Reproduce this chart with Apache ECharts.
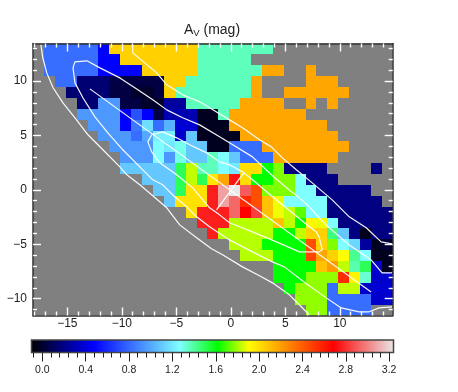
<!DOCTYPE html>
<html><head><meta charset="utf-8">
<style>html,body{margin:0;padding:0;background:#fff}#c{width:458px;height:392px}</style>
<script src="https://cdn.jsdelivr.net/npm/echarts@6/dist/echarts.min.js"></script>
</head><body><div id="c"></div>
<script>
const _ = null;
// A_V per cell, one array per map row from top; columns run left to right
const row00=[_,.82,.82,.82,.82,.82,.48,2.04,2.04,2.04,2.04,2.04,2.04,2.04,2.04,1.36,1.36,1.36,1.36,1.36,1.36,1.36,_,_,_,_,_,_,_,_,_,_,_];
const row01=[_,.82,.82,.82,.82,.82,.48,.48,2.04,2.04,2.04,2.04,2.04,2.04,2.04,1.36,1.36,1.36,1.36,1.36,_,_,_,_,_,_,_,_,_,_,_,_,_];
const row02=[_,.82,.82,.82,.82,.82,.48,.48,.48,.48,2.04,2.04,2.04,2.04,2.04,1.36,1.36,1.36,1.36,1.36,1.36,2.17,2.17,_,_,2.17,_,_,_,_,_,_,_];
const row03=[_,_,.82,.82,.16,.16,.16,.05,.05,.05,.05,.05,2.04,2.04,1.36,1.36,1.36,1.36,1.36,1.36,2.17,_,_,_,_,2.17,2.17,2.17,_,_,_,_,_];
const row04=[_,_,_,.16,.16,.16,.16,.05,.05,-.01,-.01,.05,2.04,1.36,1.36,1.36,1.36,1.36,1.36,1.36,2.17,_,_,2.17,2.17,2.17,2.17,2.17,2.17,_,_,_,_];
const row05=[_,_,_,_,.16,.16,.95,.95,.05,.05,-.01,-.01,.26,.26,1.36,1.36,1.36,1.36,1.36,2.17,2.17,2.17,2.17,_,_,2.17,_,2.17,_,_,_,_,_];
const row06=[_,_,_,_,.95,.95,.95,.95,.44,.73,.48,.05,.3,.3,.3,-.03,-.03,1.36,2.17,2.17,2.17,2.17,2.17,2.17,2.17,_,_,_,_,_,_,_,_];
const row07=[_,_,_,_,_,.95,.95,.95,.48,.85,1.17,.82,1.03,.38,.38,-.03,-.03,-.03,2.17,2.17,2.17,2.17,2.17,2.17,2.17,2.17,2.17,_,_,_,_,_,_];
const row08=[_,_,_,_,_,_,.95,.95,.95,.82,1,1.22,1.22,.36,1.1,-.03,-.03,-.03,-.03,2.17,2.17,2.17,2.17,2.17,2.17,2.17,2.17,2.17,_,_,_,_,_];
const row09=[_,_,_,_,_,_,_,.95,.95,.95,.95,1.27,1.2,1.295,1.1,1.1,-.03,-.03,.82,.82,.82,2.17,2.17,2.17,2.17,2.17,2.17,2.17,2.17,_,_,_,_];
const row10=[_,_,_,_,_,_,_,_,.95,.95,.95,1.27,.95,1.3,1.1,1.1,1.36,1.27,1.1,.82,.82,.82,2.17,2.17,2.17,2.17,2.17,2.17,_,_,_,_,_];
const row11=[_,_,_,_,_,_,_,_,1.1,1.1,1.1,1.1,1.1,1.5,1.83,1.36,1.36,1.27,1.2,2,2,1.62,1.76,.19,.19,.19,.19,_,_,_,_,.19,_];
const row12=[_,_,_,_,_,_,_,_,_,_,1.1,1.1,1.1,1.5,1.83,1.5,1.98,2.17,2.72,2,1.62,1.62,1.76,1.76,1.27,.19,.19,.19,_,_,_,_,_];
const row13=[_,_,_,_,_,_,_,_,_,_,_,1.1,1.1,1.5,1.99,1.99,2.75,3.07,3.24,2.9,2.44,1.76,1.76,1.76,1.27,1.27,.19,.19,.19,.19,.19,_,_];
const row14=[_,_,_,_,_,_,_,_,_,_,_,_,1.1,1.99,1.99,1.99,2.75,3.07,2.93,2.55,2.44,2.09,1.88,1.27,1.27,1.27,1.27,.19,.19,.19,.19,.19,_];
const row15=[_,_,_,_,_,_,_,_,_,_,_,_,_,_,1.99,2.75,2.75,2.75,2.93,2.68,2.83,2.09,1.88,1.83,1.72,1.27,1.27,.19,.19,.19,.19,.19,.19];
const row16=[_,_,_,_,_,_,_,_,_,_,_,_,_,_,_,2.75,2.75,2.75,1.82,1.82,1.82,1.82,2.09,1.83,1.62,1.92,1.88,1.27,.19,.19,.19,.19,.19];
const row17=[_,_,_,_,_,_,_,_,_,_,_,_,_,_,_,_,2.75,1.82,1.82,1.82,1.82,1.82,1.62,1.62,1.83,2.04,2.04,1.45,1.1,.19,-.03,.19,.19];
const row18=[_,_,_,_,_,_,_,_,_,_,_,_,_,_,_,_,_,_,1.82,1.82,1.82,1.62,1.62,1.62,1.62,2.44,2.04,1.76,1.27,1.15,.26,-.03,.02];
const row19=[_,_,_,_,_,_,_,_,_,_,_,_,_,_,_,_,_,_,_,1.82,1.82,1.82,1.62,1.62,1.62,2.47,2.17,2.04,1.9,1.42,1.27,-.03,-.03];
const row20=[_,_,_,_,_,_,_,_,_,_,_,_,_,_,_,_,_,_,_,_,_,_,1.62,1.62,1.62,1.62,2.09,2.21,1.83,1.38,1.5,.36,-.03];
const row21=[_,_,_,_,_,_,_,_,_,_,_,_,_,_,_,_,_,_,_,_,_,_,1.62,1.62,1.62,1.78,1.78,1.78,2.55,1.93,1.33,.36,.36];
const row22=[_,_,_,_,_,_,_,_,_,_,_,_,_,_,_,_,_,_,_,_,_,_,_,1.62,1.78,1.78,1.78,.82,1.83,1.83,.36,.38,.38];
const row23=[_,_,_,_,_,_,_,_,_,_,_,_,_,_,_,_,_,_,_,_,_,_,_,_,1.78,1.78,1.78,.82,.82,.82,.82,.36,.36];
const row24=[_,_,_,_,_,_,_,_,_,_,_,_,_,_,_,_,_,_,_,_,_,_,_,_,_,1.78,1.78,.82,.82,.82,.82,_,_];
const rows=[row00,row01,row02,row03,row04,row05,row06,row07,row08,row09,row10,row11,row12,row13,row14,row15,row16,row17,row18,row19,row20,row21,row22,row23,row24];

// white contours and ellipse axes, in map coordinates
const outerLower=[[-17.44,13.42],[-17.25,12.13],[-16.89,10.75],[-16.31,9.38],[-15.4,8],[-14.3,6.62],[-13.11,5.06],[-11.74,3.68],[-10.18,2.11],[-9.54,1.38],[-8.35,.46],[-7.16,-.55],[-5.88,-1.65],[-4.69,-3.22],[-3.14,-4.41],[-1.77,-5.42],[-.76,-5.97],[1.07,-7.08],[2.63,-7.9],[3.82,-8.55],[5.37,-9.65],[6.47,-10.75],[7.2,-11.49]];
const outerUpper=[[-9.02,13.42],[-8.99,12.59],[-7.9,11.67],[-6.8,10.75],[-5.88,9.65],[-4.42,8.73],[-2.86,8.09],[-1.95,7.54],[-.12,6.43],[1.07,5.7],[2.63,4.6],[3.72,3.95],[4.73,2.94],[6.01,1.84],[7.47,.64],[9.3,-.92],[10.86,-2.48],[12.42,-3.49],[13.79,-4.78],[14.79,-4.96]];
const middle=[[14.79,-7.63],[13.88,-7.63],[12.87,-6.43],[10.86,-5.06],[9.03,-3.49],[8.12,-2.57],[7.2,-1.56],[6.29,-.74],[5.55,-.18],[3.82,1.29],[1.99,3.03],[-.12,4.32],[-1.03,4.87],[-2.86,5.97],[-4.42,6.62],[-5.88,7.35],[-7.16,8.27],[-8.81,9.38],[-10.18,10.29],[-12.01,11.21],[-13.2,11.86],[-14.3,11.76],[-14.48,11.21],[-14.3,9.83],[-13.57,8.46],[-12.47,6.71],[-11.28,5.24],[-9.91,3.68],[-8.35,2.11],[-7.16,.92],[-6.25,.46],[-5.15,-.64],[-4.05,-1.56],[-3.14,-2.48],[-1.95,-3.4],[-.12,-4.6],[1.99,-5.7],[3.82,-6.62],[4.91,-7.08],[6.93,-8.64],[8.76,-9.93],[10.13,-10.85],[11.77,-11.21],[12.69,-11.21],[13.6,-10.85],[14.79,-10.75]];
const inner=[[-7.26,5.06],[-6.25,5.33],[-4.97,4.78],[-3.78,4.14],[-2.22,3.4],[-1.03,2.57],[-.12,2.3],[1.07,1.65],[1.99,.92],[3.82,-.64],[5.64,-2.11],[7.2,-3.4],[7.84,-3.86],[8.12,-4.41],[8.39,-5.51],[8.12,-5.7],[6.29,-5.7],[4.18,-4.78],[1.99,-3.86],[-.12,-3.03],[-1.03,-2.3],[-1.95,-1.65],[-3.5,.18],[-4.97,1.38],[-6.52,2.48],[-7.26,3.49],[-7.62,4.41],[-7.26,5.06]];
const majorAxis=[[-12.93,9.28],[12.87,-9.38]];
const minorAxis=[[-1.31,-1.84],[1.25,1.65]];

const xMajor=[-15,-10,-5,0,5,10];
const xMinor=[-18,-17,-16,-14,-13,-12,-11,-9,-8,-7,-6,-4,-3,-2,-1,1,2,3,4,6,7,8,9,11,12,13,14];
const yMajor=[-10,-5,0,5,10];
const yMinor=[-11,-9,-8,-7,-6,-4,-3,-2,-1,1,2,3,4,6,7,8,9,11,12,13];
const barMajor=[0,.4,.8,1.2,1.6,2,2.4,2.8,3.2];
const barMinor=[-.08,.08,.16,.24,.32,.48,.56,.64,.72,.88,.96,1.04,1.12,1.28,1.36,1.44,1.52,1.68,1.76,1.84,1.92,2.08,2.16,2.24,2.32,2.48,2.56,2.64,2.72,2.88,2.96,3.04,3.12];

const colorStops=[[-.1,[0,0,0]],[.48,[0,0,255]],[1.27,[127,255,255]],[1.62,[0,255,0]],[1.9,[255,255,0]],[2.68,[255,0,0]],[3.24,[232,232,232]]];
const X0=-18.15,X1=14.85,Y0=-11.55,Y1=13.45,BAR0=-.1,BAR1=3.24;

function colorOf(v){
  for(let i=1;i<colorStops.length;i++){
    const a=colorStops[i-1],b=colorStops[i];
    if(v<=b[0]){const t=Math.max(0,(v-a[0])/(b[0]-a[0]));
      return 'rgb('+a[1].map((c,k)=>Math.round(c+(b[1][k]-c)*t)).join(',')+')';}
  }
  return 'rgb(232,232,232)';
}
const cellData=[];
rows.forEach((r,j)=>r.forEach((v,i)=>{if(v!==null)cellData.push([X0+.5+i,Y1-.5-j,v]);}));

const font='"Liberation Sans",Arial,sans-serif';
const minus=v=>v<0?'\u2212'+(-v):String(v);
function mapAxis(kind,pos,vals,len,labelled){
  const isX=kind==='x';
  return {type:'value',position:pos,min:isX?X0:Y0,max:isX?X1:Y1,gridIndex:0,z:6,
    splitLine:{show:false},
    axisLine:{show:labelled,onZero:false,lineStyle:{color:'#333',width:1.5}},
    axisTick:{show:true,inside:true,length:len,customValues:vals,lineStyle:{color:'#fff',width:1.4}},
    axisLabel:labelled?{show:true,customValues:vals,formatter:minus,fontFamily:font,fontSize:12,color:'#222',margin:isX?2:6}:{show:false}};
}
const xAxes=[mapAxis('x','bottom',xMajor,8,true),mapAxis('x','bottom',xMinor,4,false),mapAxis('x','top',xMajor,8,true),mapAxis('x','top',xMinor,4,false)];
xAxes[2].axisLabel={show:false};
const yAxes=[mapAxis('y','left',yMajor,8,true),mapAxis('y','left',yMinor,4,false),mapAxis('y','right',yMajor,8,true),mapAxis('y','right',yMinor,4,false)];
yAxes[2].axisLabel={show:false};
function barAxis(vals,len,labelled){
  return {type:'value',gridIndex:1,position:'bottom',min:BAR0,max:BAR1,z:6,splitLine:{show:false},
    axisLine:{show:false},
    axisTick:{show:true,length:len,customValues:vals,lineStyle:{color:'#222',width:1}},
    axisLabel:labelled?{show:true,customValues:vals,formatter:v=>v.toFixed(1),fontFamily:font,fontSize:10.5,color:'#222',margin:12}:{show:false}};
}
xAxes.push(barAxis(barMajor,9,true),barAxis(barMinor,5,false));
yAxes.push({type:'value',gridIndex:1,min:0,max:1,show:false});

const lineSeries=[outerLower,outerUpper,middle,inner,majorAxis,minorAxis].map(d=>({
  type:'line',xAxisIndex:0,yAxisIndex:0,data:d,showSymbol:false,symbol:'none',silent:true,z:4,clip:true,
  lineStyle:{color:'#fff',width:1.2,opacity:.95}}));

const chart=echarts.init(document.getElementById('c'),null,{renderer:'canvas'});
chart.setOption({
  animation:false,backgroundColor:'#fff',
  title:{text:'{a|A}{s|V}{a| (mag)}',left:207,top:17,textAlign:'center',textStyle:{fontWeight:'normal',rich:{
    a:{fontFamily:font,fontSize:14,fontWeight:'normal',color:'#222'},
    s:{fontFamily:font,fontSize:9.5,fontWeight:'normal',color:'#222',padding:[6,0,0,0]}}}},
  grid:[
    {left:33,top:43.5,width:359.7,height:272,show:true,backgroundColor:'#808080',borderWidth:0},
    {left:31.5,top:340,width:362,height:12.5,show:false}
  ],
  xAxis:xAxes,yAxis:yAxes,
  series:[
    {type:'custom',xAxisIndex:0,yAxisIndex:0,data:cellData,z:2,silent:true,clip:true,
     encode:{x:0,y:1},
     renderItem:(p,api)=>{
       const x=api.value(0),y=api.value(1);
       const a=api.coord([x-.5,y+.5]),b=api.coord([x+.5,y-.5]);
       const l=Math.round(a[0]),t=Math.round(a[1]);
       return {type:'rect',shape:{x:l,y:t,width:Math.round(b[0])-l,height:Math.round(b[1])-t},
         style:{fill:colorOf(api.value(2))}};
     }},
    ...lineSeries,
    {type:'custom',xAxisIndex:4,yAxisIndex:4,data:[[BAR0,BAR1]],z:2,silent:true,
     encode:{x:[0,1]},
     renderItem:(p,api)=>{
       const a=api.coord([api.value(0),1]),b=api.coord([api.value(1),0]);
       return {type:'rect',shape:{x:a[0],y:a[1],width:b[0]-a[0],height:b[1]-a[1]},
         style:{stroke:'#444',lineWidth:1.5,fill:new echarts.graphic.LinearGradient(0,0,1,0,
           colorStops.map(s=>({offset:(s[0]-BAR0)/(BAR1-BAR0),color:'rgb('+s[1].join(',')+')'})))}};
     }}
  ]
});
</script></body></html>
